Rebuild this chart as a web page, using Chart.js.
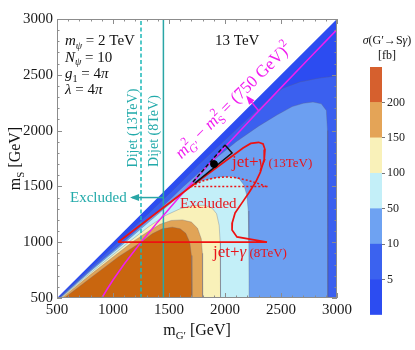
<!DOCTYPE html>
<html><head><meta charset="utf-8">
<script src="https://cdn.jsdelivr.net/npm/chart.js@4.4.0/dist/chart.umd.min.js"></script>
<style>
html,body{margin:0;padding:0;background:#fff;}
#wrap{position:relative;width:415px;height:350px;background:#fff;}
#main{position:absolute;left:0;top:0;width:415px;height:350px;}
#bar{position:absolute;left:355px;top:0;width:60px;height:350px;}
</style></head><body>
<div id="wrap"><canvas id="main" width="415" height="350"></canvas><canvas id="bar" width="60" height="350"></canvas></div>
<script>
const FONT = '"Liberation Serif", "DejaVu Serif", serif';

// ---- data: contour boundaries of sigma(G'->S gamma) in fb, as [m_G', m_S] in GeV ----
const kinematicLimit = [[500,500],[3000,3000],[3000,500]];
const contour5 = [[515,500],[800,770],[1045,1000],[1300,1240],[1570,1500],[1770,1700],[2000,1915],[2250,2150],[2400,2290],[2518,2380],[2670,2436],[2850,2472],[3000,2490],[3000,500]];
const contour10 = [[525,500],[800,750],[1090,1000],[1350,1230],[1630,1500],[1855,1700],[2100,1900],[2300,2040],[2464,2140],[2600,2215],[2700,2245],[2786,2256],[2860,2240],[2905,2180],[2915,2000],[2918,1500],[2918,500]];
const contour50 = [[530,500],[800,740],[1110,1000],[1400,1250],[1690,1500],[1800,1555],[1950,1585],[2060,1590],[2130,1565],[2170,1510],[2195,1420],[2208,1280],[2213,1000],[2215,500]];
const contour100 = [[535,500],[800,725],[1140,1000],[1320,1140],[1470,1240],[1600,1300],[1720,1330],[1820,1330],[1885,1305],[1925,1255],[1948,1150],[1957,1000],[1960,500]];
const contour150 = [[545,500],[800,710],[1170,1000],[1320,1100],[1420,1160],[1520,1195],[1620,1200],[1700,1180],[1755,1125],[1788,1030],[1798,900],[1800,500]];
const contour200 = [[565,500],[800,680],[1050,870],[1250,1000],[1350,1075],[1440,1120],[1530,1135],[1600,1120],[1650,1080],[1685,1000],[1700,880],[1705,500]];

const massLine750 = [[900,500],[950,583],[1000,661],[1100,805],[1250,1000],[1400,1182],[1600,1413],[1800,1636],[2000,1854],[2250,2121],[2500,2385],[2750,2646],[3000,2905]];
const massLineArrow = [[2300,2178],[2200,2300]];
const dijet13 = [[1250,500],[1250,3000]];
const dijet8 = [[1450,500],[1450,3000]];
const dijetArrow = [[1450,1400],[1170,1400]];
const jetGammaLimit = [[1045,1000],[1690,1495],[2161,1844],[2230,1885],[2300,1895],[2340,1880],[2357,1830],[2350,1740],[2315,1625],[2275,1540],[2215,1445],[2150,1350],[2090,1262],[2065,1175],[2063,1110],[2107,1047],[2375,1000],[1045,1000]];
const jetGammaDottedFlat = [[1690,1500],[2380,1500]];
const jetGammaDottedArc = [[1700,1505],[1800,1548],[1900,1575],[2000,1585],[2100,1578],[2200,1555],[2300,1525],[2385,1492]];
const boxDashed = [[1714,1539],[2000,1871]];
const boxSolid = [[1732,1530],[2063,1799],[2000,1871]];
const benchmarkPoint = [[1902,1700]];

const levelLabels = ['5','10','50','100','150','200'];
const axisTickValues = [500,1000,1500,2000,2500,3000];

// ---- styling ----
const pts = a => a.map(([x,y]) => ({x,y}));
const regionDefs = [
  [kinematicLimit, '#2c4cf1'],
  [contour5, '#3b60ef'],
  [contour10, '#6c9ff1'],
  [contour50, '#c3eff8'],
  [contour100, '#f9f1b9'],
  [contour150, '#e1a457'],
  [contour200, '#c9660f']
];
const datasets = [];
regionDefs.forEach(([d,c],i) => datasets.push({
  data: pts(d), showLine:true, pointRadius:0, fill:'shape', backgroundColor:c,
  borderColor: i===0 ? 'rgba(0,0,0,0)' : 'rgba(95,95,120,0.45)', borderWidth: i===0?0:0.7,
  tension:0, order: 100 - i
}));
const overlay = [
  {data: dijet13, color:'#1cb8b8', w:1.5, dash:[4,2.5]},
  {data: dijet8, color:'#2aa6a6', w:1.5},
  {data: dijetArrow, color:'#2aa6a6', w:1.5, arrow:true},
  {data: massLine750, color:'#f01ef0', w:1.5},
  {data: massLineArrow, color:'#f01ef0', w:1.5, arrow:true},
  {data: jetGammaLimit, color:'#ee1111', w:1.7},
  {data: jetGammaDottedFlat, color:'#ee1111', w:1.5, dash:[2,2]},
  {data: jetGammaDottedArc, color:'#ee1111', w:1.5, dash:[2,2]},
  {data: boxDashed, color:'#111', w:1.5, dash:[4,2.5]},
  {data: boxSolid, color:'#111', w:1.5}
];
overlay.forEach((o,i) => datasets.push({
  data: pts(o.data), showLine:true, pointRadius:0, fill:false, borderColor:o.color,
  borderWidth:o.w, borderDash:o.dash||[], tension:0, order: 50 - i, arrow: !!o.arrow
}));
datasets.push({data: pts(benchmarkPoint), showLine:false, pointRadius:3.5, pointBackgroundColor:'#000', pointBorderColor:'#000', order:0});

function drawRich(ctx, parts, x, y, opt) {
  const size = opt.size, ang = opt.angle || 0;
  ctx.save();
  ctx.translate(x, y);
  ctx.rotate(ang);
  ctx.fillStyle = opt.color;
  ctx.textBaseline = 'alphabetic';
  ctx.textAlign = 'left';
  let cx = 0, lastStart = 0;
  const items = [];
  for (const p of parts) {
    const base = p.size || size;
    const s = (p.sub || p.sup) ? base * 0.68 : base;
    const font = (p.i ? 'italic ' : '') + s + 'px ' + FONT;
    ctx.font = font;
    const w = ctx.measureText(p.t).width;
    let px = p.stack ? lastStart : cx;
    const dy = p.sub ? base * 0.26 : (p.sup ? -base * 0.42 : 0);
    items.push({t:p.t, font, x:px, dy});
    if (p.stack) cx = Math.max(cx, px + w); else { lastStart = cx; cx = px + w; }
  }
  let off = 0;
  if (opt.align === 'center') off = -cx / 2; else if (opt.align === 'right') off = -cx;
  const vy = opt.middle ? size * 0.32 : 0;
  for (const it of items) { ctx.font = it.font; ctx.fillText(it.t, it.x + off, it.dy + vy); }
  ctx.restore();
}

const annotations = {
  id: 'annotations',
  afterDatasetsDraw(chart) {
    const {ctx, scales:{x, y}} = chart;
    const X = v => x.getPixelForValue(v), Y = v => y.getPixelForValue(v);
    chart.data.datasets.forEach((ds, i) => {
      if (!ds.arrow) return;
      const el = chart.getDatasetMeta(i).data;
      const a = el[el.length-2], b = el[el.length-1];
      const ang = Math.atan2(b.y - a.y, b.x - a.x);
      ctx.save();
      ctx.fillStyle = ds.borderColor;
      ctx.translate(b.x, b.y); ctx.rotate(ang);
      ctx.beginPath(); ctx.moveTo(2, 0); ctx.lineTo(-7, -3.5); ctx.lineTo(-7, 3.5); ctx.closePath(); ctx.fill();
      ctx.restore();
    });
    const blk = '#111';
    drawRich(ctx, [{t:'m',i:1},{t:'ψ',i:1,sub:1},{t:' = 2 TeV'}], X(571), Y(2767), {size:15, color:blk});
    drawRich(ctx, [{t:'N',i:1},{t:'ψ',i:1,sub:1},{t:' = 10'}], X(571), Y(2619), {size:15, color:blk});
    drawRich(ctx, [{t:'g',i:1},{t:'1',sub:1},{t:' = 4'},{t:'π',i:1}], X(571), Y(2471), {size:15, color:blk});
    drawRich(ctx, [{t:'λ',i:1},{t:' = 4'},{t:'π',i:1}], X(571), Y(2324), {size:15, color:blk});
    drawRich(ctx, [{t:'13 TeV'}], X(1911), Y(2767), {size:15, color:blk});
    const mag = '#f01ef0';
    drawRich(ctx, [{t:'m',i:1},{t:'G′',i:1,sub:1},{t:'2',sup:1,stack:1},{t:' − '},{t:'m',i:1},{t:'S',sub:1},{t:'2',sup:1,stack:1},{t:' = (750 GeV)'},{t:'2',sup:1}],
      X(2107), Y(2238), {size:17, color:mag, align:'center', angle:-Math.PI/4});
    const teal = '#22aaaa';
    drawRich(ctx, [{t:'Dijet (13TeV)'}], X(1170), Y(2023), {size:14, color:teal, align:'center', middle:true, angle:-Math.PI/2});
    drawRich(ctx, [{t:'Dijet (8TeV)'}], X(1366), Y(1996), {size:14, color:teal, align:'center', middle:true, angle:-Math.PI/2});
    drawRich(ctx, [{t:'Excluded'}], X(616), Y(1360), {size:15, color:teal});
    const red = '#e8141a';
    drawRich(ctx, [{t:'Excluded'}], X(1598), Y(1306), {size:15, color:red});
    drawRich(ctx, [{t:'jet+',size:17},{t:'γ',i:1,size:17},{t:' (13TeV)',size:13}], X(2062), Y(1674), {size:17, color:red});
    drawRich(ctx, [{t:'jet+',size:17},{t:'γ',i:1,size:17},{t:' (8TeV)',size:13}], X(1893), Y(867), {size:17, color:red});
  },
  afterDraw(chart) {
    const {ctx, chartArea:a, scales:{x, y}} = chart;
    ctx.save();
    ctx.strokeStyle = '#8c8c8c';
    ctx.lineWidth = 1;
    ctx.strokeRect(a.left + 0.5, a.top + 0.5, a.right - a.left - 1, a.bottom - a.top - 1);
    ctx.beginPath();
    for (let v = 500; v <= 3000; v += 100) {
      const L = v % 500 === 0 ? 5 : 2.5;
      const px = Math.round(x.getPixelForValue(v)) + 0.5;
      ctx.moveTo(px, a.bottom); ctx.lineTo(px, a.bottom - L);
      ctx.moveTo(px, a.top); ctx.lineTo(px, a.top + L);
      const py = Math.round(y.getPixelForValue(v)) + 0.5;
      ctx.moveTo(a.left, py); ctx.lineTo(a.left + L, py);
      ctx.moveTo(a.right, py); ctx.lineTo(a.right - L, py);
    }
    ctx.stroke();
    ctx.restore();
    drawRich(ctx, [{t:'m'},{t:'G′',sub:1},{t:' [GeV]'}], (a.left + a.right)/2, a.bottom + 37, {size:16, color:'#111', align:'center'});
    drawRich(ctx, [{t:'m'},{t:'S',sub:1},{t:' [GeV]'}], 15, (a.top + a.bottom)/2, {size:16, color:'#111', align:'center', middle:true, angle:-Math.PI/2});
  }
};

new Chart(document.getElementById('main'), {
  type: 'scatter',
  data: { datasets },
  options: {
    responsive:false, animation:false, events:[],
    layout:{padding:{top:19, right:78, left:0, bottom:0}},
    plugins:{legend:{display:false}, tooltip:{enabled:false}},
    scales:{
      x:{type:'linear', min:500, max:3000, afterFit(s){s.height = 52;},
         afterBuildTicks(s){ s.ticks = axisTickValues.map(v => ({value:v})); },
         grid:{display:false, drawTicks:false}, border:{display:false},
         ticks:{padding:3, font:{family:FONT, size:15}, color:'#1a1a1a', maxRotation:0, callback: v => String(v)}},
      y:{type:'linear', min:500, max:3000, afterFit(s){s.width = 57;},
         afterBuildTicks(s){ s.ticks = axisTickValues.map(v => ({value:v})); },
         grid:{display:false, drawTicks:false}, border:{display:false},
         ticks:{padding:4, font:{family:FONT, size:15}, color:'#1a1a1a', callback: v => String(v)}}
    }
  },
  plugins:[annotations]
});

// ---- colour bar ----
const bandColors = ['#2c4cf1','#3b62ef','#6ea2f2','#c3eff8','#f9f1b9','#e4a457','#d6602e'];
const cbTitle = {
  id:'cbTitle',
  afterDraw(chart){
    const ctx = chart.ctx;
    drawRich(ctx, [{t:'σ',i:1},{t:'(G′→S'},{t:'γ',i:1},{t:')'}], 32, 44, {size:12, color:'#111', align:'center'});
    drawRich(ctx, [{t:'[fb]'}], 32, 59, {size:12, color:'#111', align:'center'});
  }
};
new Chart(document.getElementById('bar'), {
  type:'bar',
  data:{ labels:[''], datasets: bandColors.map(c => ({data:[1], backgroundColor:c, borderWidth:0, barPercentage:1, categoryPercentage:1})) },
  options:{
    responsive:false, animation:false, events:[],
    layout:{padding:{left:15, top:67, bottom:35, right:0}},
    plugins:{legend:{display:false}, tooltip:{enabled:false}},
    scales:{
      x:{display:false, stacked:true},
      y:{stacked:true, position:'right', min:0, max:7, afterFit(s){s.width = 33;},
         border:{display:false},
         grid:{drawOnChartArea:false, tickLength:3, color: c => (c.tick && c.tick.value > 0 && c.tick.value < 7) ? '#777' : 'rgba(0,0,0,0)'},
         ticks:{stepSize:1, padding:2, font:{family:FONT, size:12}, color:'#222', callback: v => levelLabels[v-1] || ''}}
    }
  },
  plugins:[cbTitle]
});
</script></body></html>
